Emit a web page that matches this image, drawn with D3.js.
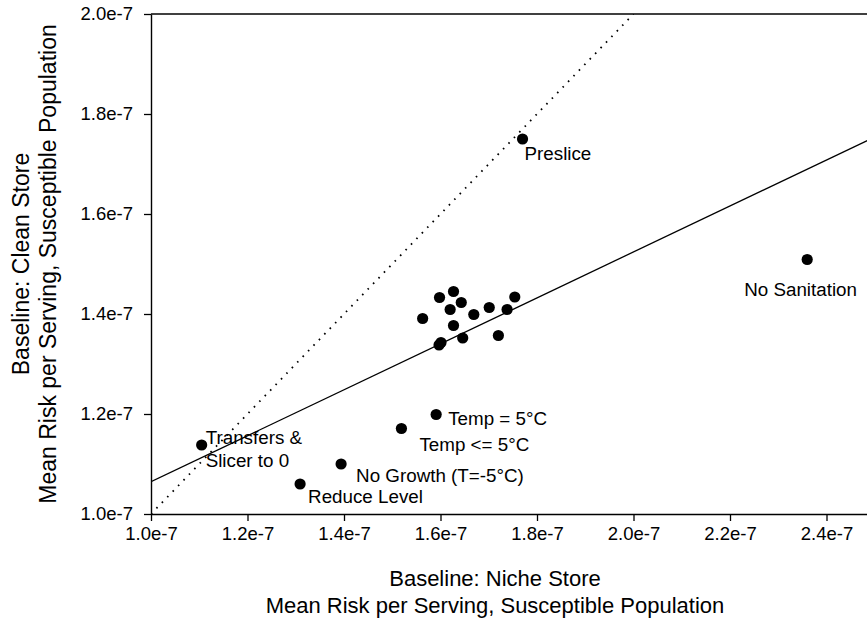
<!DOCTYPE html>
<html>
<head>
<meta charset="utf-8">
<script src="https://cdn.jsdelivr.net/npm/d3@7"></script>
<style>
  html, body { margin: 0; padding: 0; background: #fff; }
  svg { display: block; font-family: "Liberation Sans", Arial, sans-serif; }
</style>
</head>
<body>
<svg id="chart" width="867" height="630"></svg>
<script>
// ---- data (values in units of risk per serving) ----
const pointNames = [
  "Preslice", "No Sanitation", "Temp = 5°C", "Temp <= 5°C",
  "Transfers & Slicer to 0", "No Growth (T=-5°C)", "Reduce Level",
  "", "", "", "", "", "", "", "", "", "", "", "", "", ""
];
const nicheRisk = [
  1.770e-7, 2.360e-7, 1.591e-7, 1.519e-7,
  1.105e-7, 1.394e-7, 1.309e-7,
  1.563e-7, 1.598e-7, 1.627e-7, 1.643e-7, 1.620e-7, 1.669e-7, 1.701e-7,
  1.754e-7, 1.738e-7, 1.627e-7, 1.646e-7, 1.597e-7, 1.601e-7, 1.720e-7
];
const cleanRisk = [
  1.750e-7, 1.509e-7, 1.199e-7, 1.171e-7,
  1.138e-7, 1.100e-7, 1.060e-7,
  1.391e-7, 1.433e-7, 1.445e-7, 1.423e-7, 1.409e-7, 1.399e-7, 1.413e-7,
  1.434e-7, 1.409e-7, 1.377e-7, 1.352e-7, 1.338e-7, 1.343e-7, 1.357e-7
];
// regression line (solid) and 1:1 line (dotted), data units
const fitX = [1.0e-7, 2.6e-7];
const fitY = [1.0646e-7, 1.7999e-7];
const identityX = [1.0e-7, 2.0e-7];
const identityY = [1.0e-7, 2.0e-7];

const xTickValues = [1.0e-7, 1.2e-7, 1.4e-7, 1.6e-7, 1.8e-7, 2.0e-7, 2.2e-7, 2.4e-7];
const xTickLabels = ["1.0e-7", "1.2e-7", "1.4e-7", "1.6e-7", "1.8e-7", "2.0e-7", "2.2e-7", "2.4e-7"];
const yTickValues = [1.0e-7, 1.2e-7, 1.4e-7, 1.6e-7, 1.8e-7, 2.0e-7];
const yTickLabels = ["1.0e-7", "1.2e-7", "1.4e-7", "1.6e-7", "1.8e-7", "2.0e-7"];

const xTitle = ["Baseline: Niche Store", "Mean Risk per Serving, Susceptible Population"];
const yTitle = ["Baseline: Clean Store", "Mean Risk per Serving, Susceptible Population"];

// ---- layout (label offsets from their point, px) ----
const labelOffsets = {
  "Preslice": [2, 21],
  "No Sanitation": [-63, 36],
  "Temp = 5°C": [12, 10],
  "Temp <= 5°C": [18, 22],
  "Transfers & Slicer to 0": [4, -1],
  "No Growth (T=-5°C)": [15, 18],
  "Reduce Level": [8, 19]
};
const labelLines = {
  "Transfers & Slicer to 0": ["Transfers &", "Slicer to 0"]
};

const plotLeft = 151, plotTop = 14, plotBottom = 514;
const xStep = 96.5; // px per 0.2e-7
const svg = d3.select("#chart");

const x = d3.scaleLinear().domain([1.0e-7, 2.6e-7]).range([plotLeft, plotLeft + 8 * xStep]);
const y = d3.scaleLinear().domain([1.0e-7, 2.0e-7]).range([plotBottom, plotTop]);

svg.append("defs").append("clipPath").attr("id", "plotclip")
  .append("rect").attr("x", plotLeft).attr("y", plotTop)
  .attr("width", 8 * xStep).attr("height", plotBottom - plotTop);

const fontTick = "18.5px";
const fontXTitle = "22px";
const fontYTitle = "23px";

// axes
const xAxis = d3.axisBottom(x).tickValues(xTickValues)
  .tickFormat((d, i) => xTickLabels[i]).tickSizeInner(7).tickSizeOuter(0).tickPadding(6);
const gx = svg.append("g").attr("transform", `translate(0,${plotBottom})`).call(xAxis);
gx.selectAll("text").attr("font-size", fontTick).attr("fill", "#000")
  .attr("font-family", "'Liberation Sans', Arial, sans-serif");

const yAxis = d3.axisLeft(y).tickValues(yTickValues)
  .tickFormat((d, i) => yTickLabels[i]).tickSizeInner(7).tickSizeOuter(0).tickPadding(11);
const gy = svg.append("g").attr("transform", `translate(${plotLeft},0)`).call(yAxis);
gy.selectAll("text").attr("font-size", fontTick).attr("fill", "#000")
  .attr("font-family", "'Liberation Sans', Arial, sans-serif");

[gx, gy].forEach(g => {
  g.select(".domain").attr("stroke", "#000").attr("stroke-width", 1.4);
  g.selectAll(".tick line").attr("stroke", "#000").attr("stroke-width", 1.3);
});

// top frame line
svg.append("line")
  .attr("x1", x(1.0e-7)).attr("x2", x(2.6e-7))
  .attr("y1", y(2.0e-7)).attr("y2", y(2.0e-7))
  .attr("stroke", "#000").attr("stroke-width", 1.4);

// lines
const lineGen = d3.line().x(d => x(d[0])).y(d => y(d[1]));
const plot = svg.append("g").attr("clip-path", "url(#plotclip)");
plot.append("path")
  .datum(identityX.map((v, i) => [v, identityY[i]]))
  .attr("d", lineGen).attr("fill", "none").attr("stroke", "#000")
  .attr("stroke-width", 1.8).attr("stroke-dasharray", "1.6,6.2");
plot.append("path")
  .datum(fitX.map((v, i) => [v, fitY[i]]))
  .attr("d", lineGen).attr("fill", "none").attr("stroke", "#000")
  .attr("stroke-width", 1.3);

// points
const pts = nicheRisk.map((v, i) => ({ name: pointNames[i], xv: v, yv: cleanRisk[i] }));
svg.append("g").selectAll("circle").data(pts).join("circle")
  .attr("cx", d => x(d.xv)).attr("cy", d => y(d.yv)).attr("r", 5.6).attr("fill", "#000");

// labels
const lab = svg.append("g").attr("font-size", "18.8px").attr("fill", "#000");
pts.filter(d => d.name).forEach(d => {
  const off = labelOffsets[d.name];
  const lines = labelLines[d.name] || [d.name];
  const t = lab.append("text")
    .attr("x", x(d.xv) + off[0]).attr("y", y(d.yv) + off[1]);
  lines.forEach((ln, k) => {
    t.append("tspan").attr("x", x(d.xv) + off[0]).attr("dy", k === 0 ? 0 : 23.4).text(ln);
  });
});

// axis titles
svg.append("text").attr("text-anchor", "middle").attr("font-size", fontXTitle)
  .attr("x", 495).attr("y", 586).text(xTitle[0]);
svg.append("text").attr("text-anchor", "middle").attr("font-size", fontXTitle)
  .attr("x", 495).attr("y", 613).text(xTitle[1]);

const cy = (plotTop + plotBottom) / 2;
svg.append("text").attr("text-anchor", "middle").attr("font-size", fontYTitle)
  .attr("transform", `translate(29,${cy}) rotate(-90)`).text(yTitle[0]);
svg.append("text").attr("text-anchor", "middle").attr("font-size", fontYTitle)
  .attr("transform", `translate(56,${cy}) rotate(-90)`).text(yTitle[1]);
</script>
</body>
</html>
